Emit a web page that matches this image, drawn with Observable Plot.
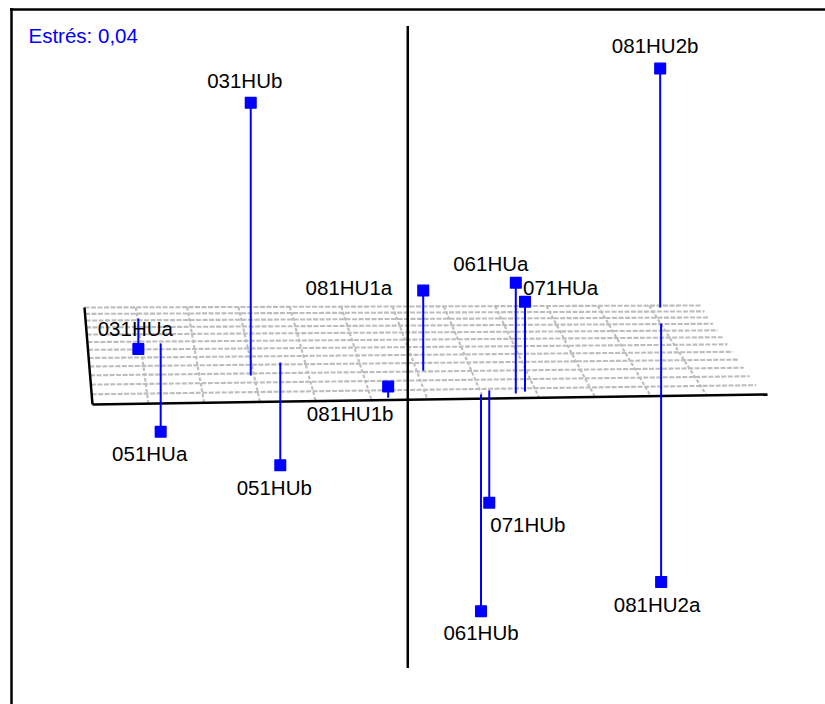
<!DOCTYPE html>
<html>
<head>
<meta charset="utf-8">
<script src="https://cdn.jsdelivr.net/npm/d3@7"></script>
<script src="https://cdn.jsdelivr.net/npm/@observablehq/plot@0.6"></script>
<style>
  html, body { margin: 0; padding: 0; background: #fff; overflow: hidden; }
</style>
</head>
<body>
<div id="chart"></div>
<script>
// ---- Data: 3-D MDS stimulus coordinates (Dimension 1, 2, 3) ----
const names = ["031HUa","031HUb","051HUa","051HUb","061HUa","061HUb","071HUa","071HUb","081HU1a","081HU1b","081HU2a","081HU2b"];
const dim1  = [-1.66, -1.02, -1.54, -0.82,  0.54,  0.33,  0.60,  0.39,  0.04, -0.23,  1.67,  1.73];
const dim2  = [ 1.42, -1.08,  0.25, -0.59, -1.84, -1.86, -1.78, -1.72, -0.97, -1.92,  1.03,  1.89];
const dim3  = [-0.19,  1.70, -0.55, -0.64,  0.69, -1.35,  0.56, -0.70,  0.50,  0.07, -1.61,  1.49];
const stressText = "Estrés: 0,04";
const axisExtent = [-2, 2];   // range of each dimension
const gridSteps = 12;         // floor grid divisions

// ---- Camera / projection (layout) ----
const W = 825, H = 704;
const BL = [84, 307], BR = [700, 305], FL = [92, 404], FR = [762, 394];
const persp = 1.29;     // depth foreshortening
const zPx = 160.5;      // vertical px per unit of dimension 3

function project(d1, d2, d3) {
  const [lo, hi] = axisExtent;
  const u = (d1 - lo) / (hi - lo);
  const t = (hi - d2) / (hi - lo);       // 0 = back, 1 = front
  const s = t / (persp - (persp - 1) * t);
  const xL = BL[0] + (FL[0] - BL[0]) * s, yL = BL[1] + (FL[1] - BL[1]) * s;
  const xR = BR[0] + (FR[0] - BR[0]) * s, yR = BR[1] + (FR[1] - BR[1]) * s;
  const x = xL + u * (xR - xL);
  const y = yL + u * (yR - yL) - d3 * zPx;
  return [x, y];
}

const [lo, hi] = axisExtent;
const step = (hi - lo) / gridSteps;
const ticks = d3.range(gridSteps + 1).map(i => lo + i * step);

// floor rows (constant dim2), from the back to the last row before the front edge
const rows = ticks.slice(1).map(d2 => {
  const a = project(lo, d2, 0), b = project(hi, d2, 0);
  return {x1: a[0], y1: a[1], x2: b[0], y2: b[1]};
});
// floor columns (constant dim1)
const cols = ticks.slice(1, -1).map(d1 => {
  const a = project(d1, hi, 0), b = project(d1, lo, 0);
  return {x1: a[0], y1: a[1], x2: b[0], y2: b[1]};
});
// black axes: left edge, front edge, vertical axis through the centre
const axes = [
  [project(lo, hi, 0), project(lo, lo, 0)],
  [project(lo, lo, 0), project(hi + 0.03, lo, 0)],
  [project((lo + hi) / 2, (lo + hi) / 2, hi), project((lo + hi) / 2, (lo + hi) / 2, lo)]
].map(([a, b]) => ({x1: a[0], y1: a[1], x2: b[0], y2: b[1]}));

// points
const pts = names.map((name, i) => {
  const foot = project(dim1[i], dim2[i], 0);
  const top = project(dim1[i], dim2[i], dim3[i]);
  return {name, fx: foot[0], fy: foot[1], x: top[0], y: top[1]};
});

// label placement relative to marker (anchor, dx, baseline dy)
const place = {
  "031HUb": ["middle", -6, -15], "081HU2b": ["middle", -5, -15], "031HUa": ["middle", -3, -13],
  "081HU1a": ["end", -31, 5], "061HUa": ["middle", -25, -12], "071HUa": ["start", -2, -7],
  "081HU1b": ["middle", -38, 35], "051HUa": ["middle", -11, 29], "051HUb": ["middle", -6, 30],
  "071HUb": ["start", 1, 29], "081HU2a": ["middle", -4, 30], "061HUb": ["middle", 0, 29]
};
const labels = pts.map(p => {
  const [anchor, dx, dy] = place[p.name];
  return {name: p.name, anchor, lx: p.x + dx, ly: p.y + dy};
});

const font = "Arial, 'Liberation Sans', sans-serif";
const blue = "#0000ff";

const textMarks = ["start", "middle", "end"].map(a =>
  Plot.text(labels.filter(d => d.anchor === a), {
    x: "lx", y: "ly", text: "name", textAnchor: a, lineAnchor: "bottom",
    fill: "#000", fontSize: 20.5, fontFamily: font
  })
);

const chart = Plot.plot({
  width: W, height: H,
  margin: 0,
  x: {domain: [0, W], range: [0, W], axis: null},
  y: {domain: [0, H], range: [0, H], axis: null},
  style: {background: "#fff", fontFamily: font},
  marks: [
    // outer frame (top and left edges)
    Plot.ruleY([0], {frameAnchor: "top", dy: 9, x1: 10, x2: W, stroke: "#000", strokeWidth: 2.5}),
    Plot.ruleX([0], {dx: 11, y1: 8, y2: H, stroke: "#000", strokeWidth: 2.5}),
    // floor grid
    Plot.link(rows, {x1: "x1", y1: "y1", x2: "x2", y2: "y2", stroke: "#bdbdbd", strokeWidth: 2.1, strokeDasharray: "5,1.5"}),
    Plot.link(cols, {x1: "x1", y1: "y1", x2: "x2", y2: "y2", stroke: "#bdbdbd", strokeWidth: 2.1, strokeDasharray: "3.5,2"}),
    // axes
    Plot.link(axes, {x1: "x1", y1: "y1", x2: "x2", y2: "y2", stroke: "#000", strokeWidth: 2.5}),
    // stems
    Plot.link(pts, {x1: "fx", y1: "fy", x2: "x", y2: "y", stroke: blue, strokeWidth: 2}),
    // markers
    Plot.dot(pts, {x: "x", y: "y", symbol: "square", r: 6, fill: blue, stroke: blue, strokeWidth: 1.4, strokeLinejoin: "round"}),
    ...textMarks,
    // stress
    Plot.text([stressText], {frameAnchor: "top-left", dx: 28, dy: 28, textAnchor: "start", lineAnchor: "top", fill: blue, fontSize: 20.5, fontFamily: font})
  ]
});
document.getElementById("chart").appendChild(chart);
</script>
</body>
</html>
